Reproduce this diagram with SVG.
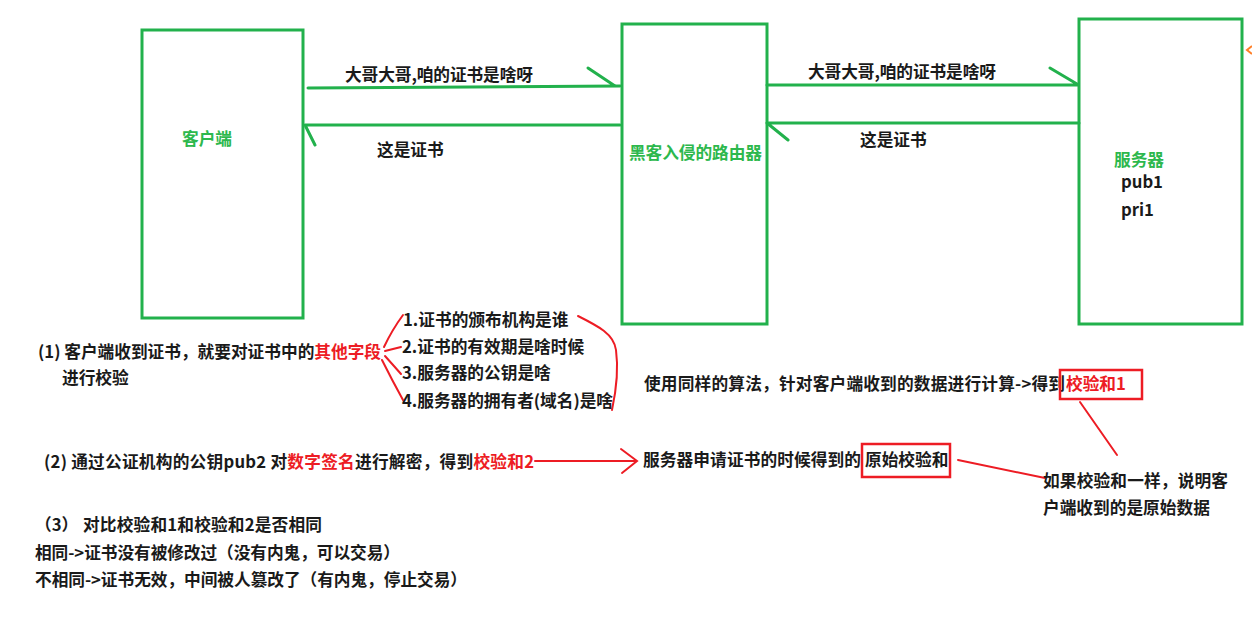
<svg xmlns="http://www.w3.org/2000/svg" width="1252" height="622" viewBox="0 0 1252 622">
<style>
.box{fill:none;stroke:#22b14c;stroke-width:3}
.g{stroke:#22b14c;stroke-width:3;fill:none;stroke-linecap:round}
.r{stroke:#ed1c24;stroke-width:2;fill:none;stroke-linecap:round}
.rb{fill:none;stroke:#ed1c24;stroke-width:2.5}
text{font-family:"Noto Sans CJK SC","Microsoft YaHei",sans-serif;font-size:16.7px;font-weight:700;fill:#1a1a1a}
.gt{fill:#2db84d}
.rt{fill:#ed1c24}
</style>
<rect width="1252" height="622" fill="#ffffff"/>
<g id="client"><rect class="box" x="142" y="30" width="161" height="288"/><text class="gt" x="182" y="145">客户端</text></g>
<g id="router"><rect class="box" x="622" y="24" width="145" height="300"/><text class="gt" x="629" y="159" textLength="133">黑客入侵的路由器</text></g>
<g id="server"><rect class="box" x="1079" y="19" width="163" height="305"/><text class="gt" x="1114" y="166">服务器</text><text x="1121" y="188">pub1</text><text x="1121" y="216">pri1</text></g>
<g id="connectors">
<path class="g" d="M308,88 L620,86 M588,68 L615,86"/>
<path class="g" d="M620,125 L305,125 M305,125 L315,145"/>
<path class="g" d="M767,85 L1078,85 M1050,68 L1077,84"/>
<path class="g" d="M1079,123 L767,123 M767,123 L788,140"/>
<path class="r" d="M384,347 Q392,330 403,315 M385,351 L401,347 M385,356 Q394,366 401,374 M382,360 Q392,380 403,400"/>
<path class="r" d="M578,316 C598,326 614,334 616,350 C619,372 615,396 612,410"/>
<path class="r" d="M535,461 L636,461 M621,449 L637,461 L622,473"/>
<path class="r" d="M1080,402 L1117,455"/>
<path class="r" d="M958,460 L1045,478"/>
<path d="M1252,46 L1247,50 L1252,54" stroke="#ff7f27" stroke-width="2" fill="none"/>
</g>
<g id="labels">
<text x="345" y="81" textLength="188">大哥大哥,咱的证书是啥呀</text>
<text x="377" y="156">这是证书</text>
<text x="808" y="78" textLength="188">大哥大哥,咱的证书是啥呀</text>
<text x="860" y="146">这是证书</text>
</g>
<g id="notes">
<text x="38" y="358" textLength="343">(1) 客户端收到证书，就要对证书中的<tspan class="rt">其他字段</tspan></text>
<text x="62" y="384">进行校验</text>
<text x="403" y="326">1.证书的颁布机构是谁</text>
<text x="402" y="353">2.证书的有效期是啥时候</text>
<text x="402" y="379">3.服务器的公钥是啥</text>
<text x="402" y="407" textLength="211">4.服务器的拥有者(域名)是啥</text>
<text x="644" y="390" textLength="421">使用同样的算法，针对客户端收到的数据进行计算-&gt;得到</text>
<text class="rt" x="1066" y="390">校验和1</text>
<rect class="rb" x="1060" y="370" width="82" height="29"/>
<text x="44" y="468" textLength="490">(2) 通过公证机构的公钥pub2 对<tspan class="rt">数字签名</tspan>进行解密，得到<tspan class="rt">校验和2</tspan></text>
<text x="643" y="466" textLength="218">服务器申请证书的时候得到的</text>
<text x="865" y="466">原始校验和</text>
<rect class="rb" x="862" y="444" width="88" height="33"/>
<text x="1043" y="487" textLength="185">如果校验和一样，说明客</text>
<text x="1043" y="514">户端收到的是原始数据</text>
<text x="35" y="531">（3）</text>
<text x="83" y="531" textLength="239">对比校验和1和校验和2是否相同</text>
<text x="35" y="559" textLength="365">相同-&gt;证书没有被修改过（没有内鬼，可以交易）</text>
<text x="35" y="586" textLength="432">不相同-&gt;证书无效，中间被人篡改了（有内鬼，停止交易）</text>
</g>
</svg>
